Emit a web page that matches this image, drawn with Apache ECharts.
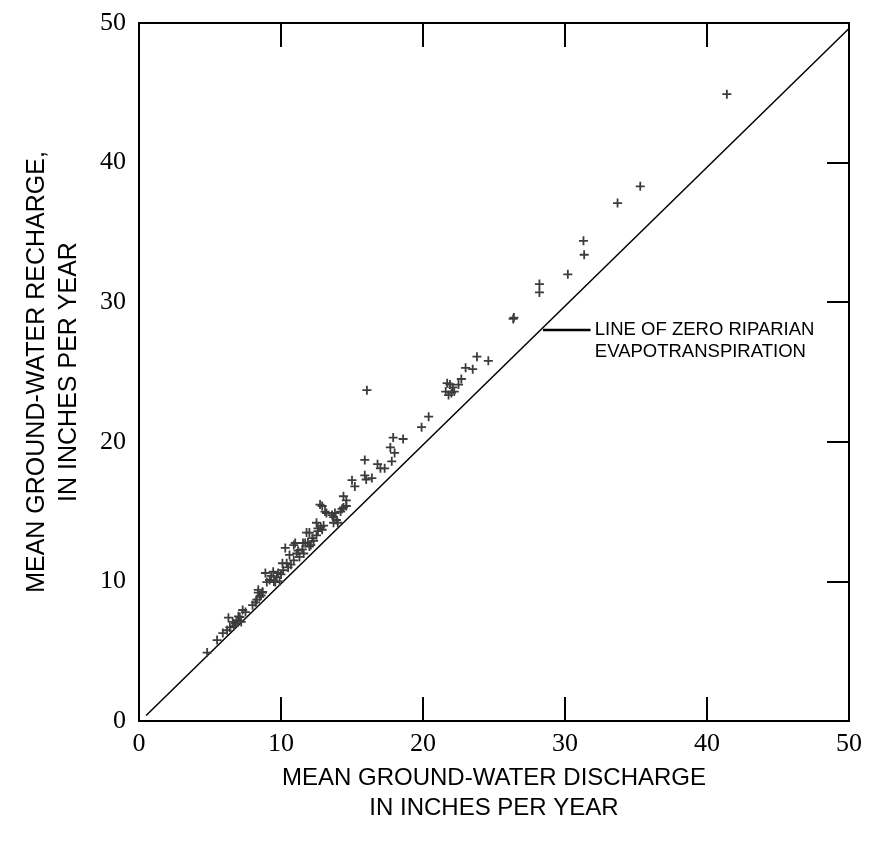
<!DOCTYPE html>
<html>
<head>
<meta charset="utf-8">
<script src="https://cdn.jsdelivr.net/npm/echarts@6/dist/echarts.min.js"></script>
<style>html,body{margin:0;padding:0;background:#fff;}#c{width:869px;height:850px;}</style>
</head>
<body>
<div id="c"></div>
<script>
// Data: [mean ground-water discharge, mean ground-water recharge] (inches per year)
const points = [
  [41.4,44.9],[35.3,38.3],[33.7,37.1],[31.3,34.4],[31.35,33.4],[30.2,32.0],[28.2,31.3],[28.2,30.7],[26.4,28.9],[26.35,28.8],
  [24.6,25.8],[23.8,26.1],[23.5,25.2],[23.0,25.3],[22.7,24.5],[22.5,24.1],[21.7,24.2],[21.9,24.1],[22.1,23.9],[21.6,23.6],[22.0,23.5],[21.8,23.35],[22.2,23.6],
  [20.4,21.8],[19.9,21.05],
  [16.05,23.7],
  [17.9,20.3],[18.6,20.2],[17.7,19.6],[18.0,19.2],[17.8,18.6],[16.8,18.4],[17.0,18.1],[17.3,18.1],[15.9,18.7],[15.9,17.6],[16.0,17.3],[16.4,17.4],[15.0,17.25],[15.2,16.8],
  [14.4,16.1],[14.6,15.8],[14.4,15.3],[14.3,15.2],[14.6,15.4],[14.2,15.0],
  [13.7,14.6],[13.7,14.2],[13.8,14.9],[13.6,14.75],[13.2,14.9],[13.1,15.0],[12.75,15.5],[12.9,15.4],[12.5,14.2],[12.6,13.8],[12.9,13.7],[12.0,13.5],[12.6,13.6],[12.5,13.3],[12.2,13.1],[13.0,14.0],[12.8,13.9],[13.9,14.4],[14.0,14.2],
  [11.8,13.5],[11.7,12.75],[11.55,12.75],[11.9,12.8],[12.0,12.5],[11.3,11.75],[11.1,12.0],[10.9,12.6],[11.0,12.75],[10.9,11.5],[10.6,11.9],[10.3,12.4],[10.4,11.3],[10.15,10.8],[10.1,11.3],[11.2,12.2],[11.5,12.3],[11.6,12.0],[12.3,12.9],[12.1,12.6],
  [9.7,10.3],[9.6,9.95],[9.45,10.7],[9.2,10.1],[9.0,9.95],[8.9,10.6],[9.3,10.4],[9.8,10.6],[9.9,10.0],[10.0,10.5],[10.5,11.0],[10.7,11.2],[9.5,10.0],
  [8.7,9.25],[8.4,9.4],[8.7,9.2],[8.4,9.2],[8.6,9.0],[8.2,8.5],[8.0,8.3],[8.3,8.7],[8.5,8.9],
  [7.3,7.95],[7.1,7.45],[6.9,7.2],[6.8,7.0],[6.6,7.1],[6.4,6.7],[6.2,6.5],[6.3,7.4],[7.0,7.5],[7.5,7.8],[7.2,7.1],[6.7,6.8],
  [5.9,6.3],[5.5,5.8],[4.8,4.9]
];
// Line of zero riparian evapotranspiration (as drawn)
const zeroLine = [[0.5,0.4],[50,49.6]];
// Annotation leader line
const leader = [[28.45,28.0],[31.8,28.0]];
const annotationAnchor = [32.1,28.0];
const annotationText = 'LINE OF ZERO RIPARIAN\nEVAPOTRANSPIRATION';
const xTitle = 'MEAN GROUND-WATER DISCHARGE\nIN INCHES PER YEAR';
const yTitle = 'MEAN GROUND-WATER RECHARGE,\nIN INCHES PER YEAR';
const axisMin = 0, axisMax = 50, axisStep = 10;

const chart = echarts.init(document.getElementById('c'), null, {renderer:'canvas'});
const serif = '"Liberation Serif","DejaVu Serif",serif';
const sans = '"Liberation Sans",Arial,sans-serif';
const plus = 'path://M4,0h2v4h4v2h-4v4h-2v-4h-4v-2h4z';

function axis(extra){
  return Object.assign({
    type:'value', min:axisMin, max:axisMax, interval:axisStep,
    splitLine:{show:false},
    axisLine:{show:true, onZero:false, lineStyle:{color:'#000', width:2}}
  }, extra);
}
const option = {
  animation:false,
  backgroundColor:'#fff',
  grid:{left:139, right:20, top:23, bottom:129, containLabel:false},
  xAxis:[
    axis({
      position:'bottom',
      axisTick:{show:true, inside:true, length:24, lineStyle:{color:'#000', width:2}},
      axisLabel:{show:true, margin:10, color:'#000', fontFamily:serif, fontSize:26},
      name:xTitle, nameLocation:'middle', nameGap:42,
      nameTextStyle:{color:'#000', fontFamily:sans, fontSize:24, lineHeight:30}
    }),
    axis({
      position:'top',
      axisTick:{show:true, inside:true, length:24, lineStyle:{color:'#000', width:2}},
      axisLabel:{show:false}
    })
  ],
  yAxis:[
    axis({
      position:'left',
      axisTick:{show:false},
      axisLabel:{show:true, margin:13, color:'#000', fontFamily:serif, fontSize:26},
      name:yTitle, nameLocation:'middle', nameGap:54, nameRotate:90,
      nameTextStyle:{color:'#000', fontFamily:sans, fontSize:25, lineHeight:32}
    }),
    axis({
      position:'right',
      axisTick:{show:true, inside:true, length:22, lineStyle:{color:'#000', width:2}},
      axisLabel:{show:false}
    })
  ],
  series:[
    {
      type:'line', data:zeroLine, symbol:'none', silent:true,
      lineStyle:{color:'#000', width:1.5}, z:2
    },
    {
      type:'line', data:leader, symbol:'none', silent:true,
      lineStyle:{color:'#000', width:2.5}, z:2
    },
    {
      type:'scatter', data:points, symbol:plus, symbolSize:9,
      itemStyle:{color:'#3c3c3c', opacity:1}, z:3
    },
    {
      type:'scatter', data:[annotationAnchor], symbolSize:0, silent:true,
      itemStyle:{opacity:1},
      label:{show:true, position:'right', distance:0, formatter:annotationText,
        color:'#000', fontFamily:sans, fontSize:18.5, lineHeight:22, align:'left',
        verticalAlign:'top', offset:[0,-11]}
    }
  ]
};
chart.setOption(option);
</script>
</body>
</html>
